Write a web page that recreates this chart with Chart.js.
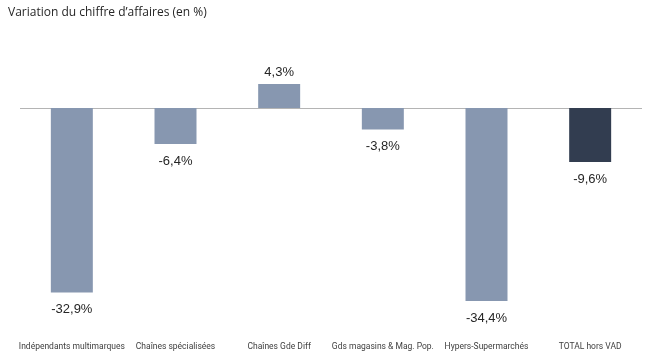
<!DOCTYPE html>
<html>
<head>
<meta charset="utf-8">
<script src="https://cdn.jsdelivr.net/npm/chart.js@4"></script>
<style>
  html, body { margin: 0; padding: 0; background: #ffffff; }
  #wrap { position: relative; width: 661px; height: 362px; }
</style>
</head>
<body>
<div id="wrap"><canvas id="chart" width="661" height="362"></canvas></div>
<script>
// chart values
const categories = [
  "Indépendants multimarques",
  "Chaînes spécialisées",
  "Chaînes Gde Diff",
  "Gds magasins & Mag. Pop.",
  "Hypers-Supermarchés",
  "TOTAL hors VAD",
];
const variations = [-32.9, -6.4, 4.3, -3.8, -34.4, -9.6];
const titleText = "Variation du chiffre d\u2019affaires (en %)";

const barColor = "#8797b0";
const totalColor = "#323d50";

const fmt = (v) => v.toFixed(1).replace(".", ",") + "%";

// title, zero line and value labels drawn on the canvas
const decorPlugin = {
  id: "decor",
  beforeDatasetsDraw(chart) {
    const ctx = chart.ctx;
    const area = chart.chartArea;
    const y0 = Math.round(chart.scales.y.getPixelForValue(0)) + 0.5;
    ctx.save();
    ctx.strokeStyle = "#b4b4b4";
    ctx.lineWidth = 1;
    ctx.beginPath();
    ctx.moveTo(area.left, y0);
    ctx.lineTo(area.right, y0);
    ctx.stroke();
    ctx.restore();
  },
  afterDatasetsDraw(chart) {
    const ctx = chart.ctx;
    ctx.save();
    ctx.fillStyle = "#262626";
    ctx.font = '12px "Open Sans", sans-serif';
    ctx.textAlign = "left";
    ctx.textBaseline = "middle";
    ctx.fillText(titleText, 8, 13);

    ctx.font = '13px "Liberation Sans", Arial, sans-serif';
    ctx.textAlign = "center";
    const meta = chart.getDatasetMeta(0);
    meta.data.forEach((bar, i) => {
      const v = variations[i];
      const y = v >= 0 ? bar.y - 12 : bar.y + 17;
      ctx.fillText(fmt(v), bar.x, y);
    });
    ctx.restore();
  },
};

const ctx = document.getElementById("chart").getContext("2d");
new Chart(ctx, {
  type: "bar",
  data: {
    labels: categories,
    datasets: [{
      data: variations,
      backgroundColor: variations.map((v, i) => i === variations.length - 1 ? totalColor : barColor),
      borderWidth: 0,
      categoryPercentage: 1,
      barPercentage: 0.405,
    }],
  },
  options: {
    responsive: false,
    animation: false,
    layout: { padding: { left: 20, right: 19, top: 52, bottom: 0 } },
    plugins: { legend: { display: false }, tooltip: { enabled: false }, title: { display: false } },
    scales: {
      x: {
        grid: { display: false, drawTicks: false },
        border: { display: false },
        afterFit(scale) {
          scale.paddingLeft = 0;
          scale.paddingRight = 0;
          scale.height = 52;
        },
        ticks: {
          autoSkip: false,
          maxRotation: 0,
          minRotation: 0,
          padding: 32,
          color: "#404040",
          font: { family: 'Roboto, sans-serif', size: 8.5 },
        },
      },
      y: {
        display: false,
        min: -36,
        max: 10,
      },
    },
  },
  plugins: [decorPlugin],
});
</script>
</body>
</html>
